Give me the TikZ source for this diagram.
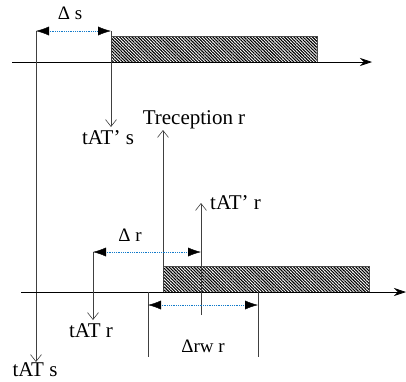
\documentclass[tikz,border=0pt]{standalone}
\usepackage{fontspec}
\setmainfont{Liberation Serif}
\usetikzlibrary{arrows.meta, patterns.meta, calc}

\begin{document}
\begin{tikzpicture}[x=1pt, y=-1pt,
    axis/.style={-{Stealth[length=12pt, width=8pt]}, line width=0.7pt, draw=black},
    band/.style={draw=black!70, line width=0.6pt,
      pattern={Lines[angle=-45, distance=2.2pt, line width=1.1pt]}},
    tline/.style={-{Straight Barb[length=7pt, width=11pt, line width=0.6pt]},
      line width=0.6pt, draw=black!75},
    vline/.style={line width=0.6pt, draw=black!75},
    gap/.style={densely dotted, line width=0.8pt, draw=cyan!60!blue, shorten <=12pt, shorten >=12pt},
    gaptip/.style={-{Latex[length=13pt, width=9pt]}, fill=black, draw=black, line width=0.4pt},
    lbl/.style={inner sep=0pt, font=\fontsize{21}{23}\selectfont},
    small/.style={inner sep=0pt, font=\fontsize{19}{21}\selectfont}
  ]
  \useasboundingbox (0,0) rectangle (406,381);

  % sender
  \coordinate (ax1a) at (12,62);
  \coordinate (ax1b) at (372,62);
  \coordinate (s0) at (36,31);
  \coordinate (s0e) at (36,362);
  \coordinate (s1) at (111,31);
  \coordinate (s1e) at (111,127);
  \coordinate (sm) at (73.5,31);
  \draw[band] (111,36) rectangle (317,62);
  \draw[axis] (ax1a) -- (ax1b);
  \draw[vline] (s0) -- (36,62);
  \draw[tline] (36,62) -- (s0e);
  \draw[tline] (s1) -- (s1e);
  \draw[gap] (s0) -- (s1);
  \draw[gaptip] ($(sm)!0.7!(s0)$) -- (s0);
  \draw[gaptip] ($(sm)!0.7!(s1)$) -- (s1);
  \node[small] (ds) at (70,13) {Δ s};
  \node[lbl] (tats) at (35,370) {tAT s};
  \node[lbl] (tatps) at (108,138) {tAT’ s};

  % receiver
  \coordinate (ax2a) at (21,292);
  \coordinate (ax2b) at (406,292);
  \coordinate (rc0) at (163,292);
  \coordinate (rc1) at (163,130);
  \coordinate (r0) at (93,252);
  \coordinate (r0e) at (93,320);
  \coordinate (r1) at (201,252);
  \coordinate (r1a) at (201,315);
  \coordinate (r1e) at (201,203);
  \coordinate (rm) at (147,252);
  \coordinate (w0) at (148,292);
  \coordinate (w0e) at (148,357);
  \coordinate (w1) at (258,292);
  \coordinate (w1e) at (258,357);
  \coordinate (wa) at (148,305);
  \coordinate (wb) at (258,305);
  \coordinate (wm) at (203,305);
  \draw[band] (163,266) rectangle (369,292);
  \draw[axis] (ax2a) -- (ax2b);
  \draw[tline] (rc0) -- (rc1);
  \draw[tline] (r1a) -- (r1e);
  \draw[tline] (r0) -- (r0e);
  \draw[vline] (w0) -- (w0e);
  \draw[vline] (w1) -- (w1e);
  \draw[gap] (r0) -- (r1);
  \draw[gaptip] ($(rm)!0.8!(r0)$) -- (r0);
  \draw[gaptip] ($(rm)!0.8!(r1)$) -- (r1);
  \draw[gap] (wa) -- (wb);
  \draw[gaptip] ($(wm)!0.8!(wa)$) -- (wa);
  \draw[gaptip] ($(wm)!0.8!(wb)$) -- (wb);
  \node[lbl] (trec) at (194,120) {Treception r};
  \node[lbl, anchor=west] (tatpr) at (210,203) {tAT’ r};
  \node[small] (dr) at (130,235) {Δ r};
  \node[lbl] (tatr) at (91,331) {tAT r};
  \node[small] (drw) at (203,346) {Δrw r};
\end{tikzpicture}
\end{document}
